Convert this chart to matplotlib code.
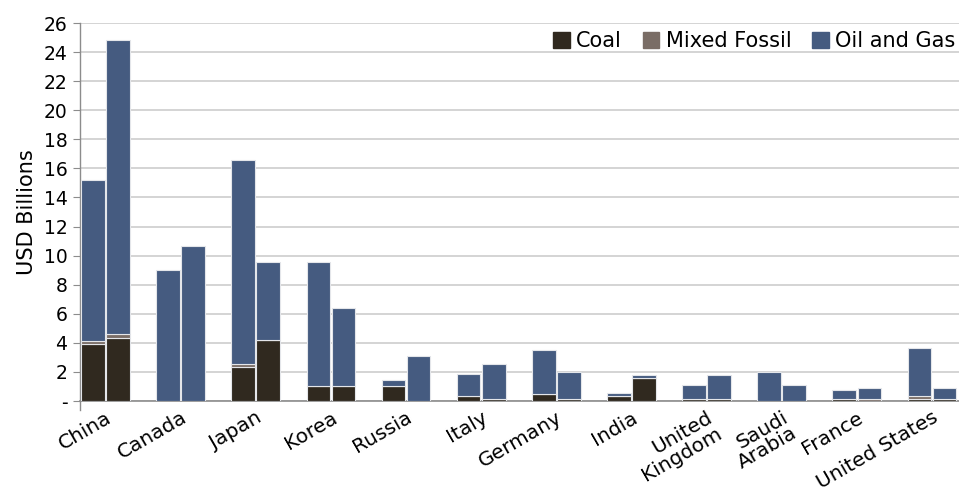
import numpy as np
import matplotlib.pyplot as plt

plt.rcParams['font.family'] = ['DejaVu Sans']

countries = ['China', 'Canada', 'Japan', 'Korea', 'Russia', 'Italy', 'Germany',
             'India', 'United\nKingdom', 'Saudi\nArabia', 'France', 'United States']

# two bars per country (first / second period), USD billions
coal_a  = [3.95, 0.0, 2.35, 1.05, 1.05, 0.37, 0.50, 0.37, 0.16, 0.0, 0.16, 0.15]
mixed_a = [0.20, 0.0, 0.20, 0.0,  0.0,  0.0,  0.0,  0.0,  0.0,  0.0, 0.0,  0.20]
oil_a   = [11.05, 9.0, 14.0, 8.5, 0.40, 1.47, 3.02, 0.16, 0.92, 2.02, 0.60, 3.30]

coal_b  = [4.35, 0.0, 4.20, 1.05, 0.0, 0.16, 0.16, 1.61, 0.16, 0.0, 0.0,  0.16]
mixed_b = [0.25, 0.0, 0.0,  0.0,  0.0, 0.0,  0.0,  0.0,  0.0,  0.0, 0.15, 0.0]
oil_b   = [20.2, 10.65, 5.35, 5.35, 3.10, 2.39, 1.84, 0.20, 1.65, 1.08, 0.75, 0.74]

colors = {'Coal': '#30291f', 'Mixed Fossil': '#7a6d66', 'Oil and Gas': '#455b80'}

fig = plt.figure(figsize=(9.59, 4.93), dpi=100)
ax = fig.add_axes([0.0834, 0.1866, 0.9166, 0.7667])

x = np.arange(len(countries))
w = 0.315
off = 0.167
kw = dict(width=w, edgecolor='#e4e6ea', linewidth=0.8, zorder=3)

for pos, coal, mixed, oil in [(x - off, coal_a, mixed_a, oil_a),
                              (x + off, coal_b, mixed_b, oil_b)]:
    coal = np.array(coal)
    mixed = np.array(mixed)
    ax.bar(pos, coal, color=colors['Coal'], **kw)
    ax.bar(pos, mixed, bottom=coal, color=colors['Mixed Fossil'], **kw)
    ax.bar(pos, oil, bottom=coal + mixed, color=colors['Oil and Gas'], **kw)

ax.set_xlim(-0.34, 11.36)
ax.set_ylim(0, 26)
ax.set_yticks(np.arange(0, 27, 2))
ax.set_yticklabels(['-'] + [str(v) for v in range(2, 27, 2)], fontsize=13.5)
ax.yaxis.grid(True, color='#d4d4d4', linewidth=1.4, zorder=0)
ax.set_axisbelow(True)

ax.set_xticks(x)
ax.set_xticklabels(countries, rotation=30, ha='right', va='top',
                   rotation_mode='anchor', fontsize=14.5, linespacing=0.95)
ax.tick_params(axis='x', length=0, pad=5)
ax.tick_params(axis='y', length=5, color='#8c8c8c', pad=4)

for side in ['top', 'right']:
    ax.spines[side].set_visible(False)
ax.spines['left'].set_color('#8c8c8c')
ax.spines['bottom'].set_color('#8c8c8c')
ax.spines['left'].set_linewidth(1.0)
ax.spines['bottom'].set_linewidth(1.2)
# y axis line runs a little past the baseline
ax.plot([-0.34, -0.34], [0, -0.6], color='#8c8c8c', lw=1.0, clip_on=False)

ax.set_ylabel('USD Billions', fontsize=15, labelpad=5)

handles = [plt.Rectangle((0, 0), 1, 1, color=c) for c in colors.values()]
ax.legend(handles, list(colors.keys()), loc='upper right', ncol=3, frameon=False,
          fontsize=15, handlelength=0.8, handleheight=0.8, handletextpad=0.3,
          columnspacing=1.0, bbox_to_anchor=(1.01, 1.012), borderaxespad=0.2)

fig.savefig('out.png', dpi=100)
